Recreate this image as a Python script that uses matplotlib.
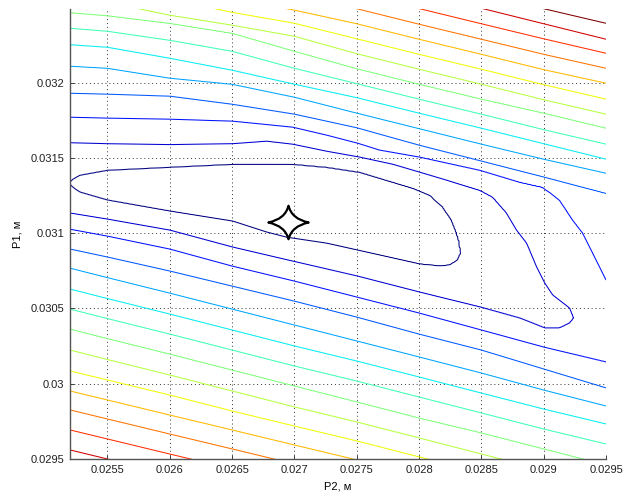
"""Contour map of the criterion over (P2, P1) with the optimum marked by a star."""
import numpy as np
import matplotlib
matplotlib.use('Agg')
import matplotlib.pyplot as plt
from matplotlib.path import Path
from matplotlib.colors import Normalize

plt.rcParams['font.family'] = ['Liberation Sans', 'DejaVu Sans']
plt.rcParams['font.size'] = 8

nan = np.nan

p2_cols = [0.0252, 0.0255, 0.0260, 0.0265, 0.0270, 0.0275, 0.0280, 0.0285, 0.0290, 0.0295]

# branches above the valley: P1 (m) of contour level k at each column (nan = far off the axes)
upper = {
    4:  [0.031930, 0.031924, 0.031911, 0.031857, 0.031791, 0.031701, 0.031585, 0.031479, 0.031373, 0.031266],
    5:  [0.032110, 0.032096, 0.032030, 0.031990, 0.031904, 0.031798, 0.031695, 0.031592, 0.031492, 0.031399],
    6:  [0.032253, 0.032236, 0.032163, 0.032083, 0.031990, 0.031901, 0.031798, 0.031698, 0.031595, 0.031492],
    7:  [0.032362, 0.032342, 0.032282, 0.032209, 0.032096, 0.031994, 0.031891, 0.031791, 0.031688, 0.031592],
    8:  [0.032465, 0.032445, 0.032395, 0.032329, 0.032209, 0.032093, 0.031990, 0.031891, 0.031798, 0.031698],
    9:  [0.032581, 0.032535, 0.032448, 0.032382, 0.032309, 0.032193, 0.032090, 0.031990, 0.031887, 0.031791],
    10: [nan, 0.032634, 0.032555, 0.032468, 0.032395, 0.032292, 0.032189, 0.032090, 0.031987, 0.031891],
    11: [nan, nan, 0.032641, 0.032561, 0.032482, 0.032392, 0.032289, 0.032189, 0.032087, 0.031997],
    12: [nan, nan, nan, 0.032694, 0.032594, 0.032492, 0.032389, 0.032289, 0.032189, 0.032096],
    13: [nan, nan, nan, nan, 0.032687, 0.032588, 0.032493, 0.032392, 0.032292, 0.032196],
    14: [nan, nan, nan, nan, nan, 0.032694, 0.032594, 0.032495, 0.032392, 0.032289],
    15: [nan, nan, nan, nan, nan, nan, 0.032694, 0.032588, 0.032492, 0.032395],
    16: [nan, nan, nan, nan, nan, nan, nan, 0.032694, 0.032594, 0.032502],
}

# branches below the valley
lower = {
    3:  [0.031027, 0.030981, 0.030895, 0.030782, 0.030682, 0.030576, 0.030470, 0.030357, 0.030244, 0.030144],
    4:  [0.030895, 0.030842, 0.030749, 0.030649, 0.030549, 0.030443, 0.030330, 0.030224, 0.030098, 0.029972],
    5:  [0.030768, 0.030705, 0.030602, 0.030496, 0.030390, 0.030284, 0.030178, 0.030071, 0.029958, 0.029852],
    6:  [0.030629, 0.030566, 0.030463, 0.030357, 0.030251, 0.030151, 0.030045, 0.029938, 0.029832, 0.029733],
    7:  [0.030496, 0.030433, 0.030330, 0.030224, 0.030118, 0.030018, 0.029912, 0.029806, 0.029699, 0.029600],
    8:  [0.030363, 0.030300, 0.030197, 0.030091, 0.029985, 0.029879, 0.029772, 0.029673, 0.029567, 0.029460],
    9:  [0.030224, 0.030161, 0.030058, 0.029952, 0.029846, 0.029746, 0.029640, 0.029533, 0.029427, nan],
    10: [0.030085, 0.030025, 0.029925, 0.029819, 0.029719, 0.029620, 0.029514, 0.029414, nan, nan],
    11: [0.029952, 0.029892, 0.029792, 0.029693, 0.029593, 0.029494, 0.029394, nan, nan, nan],
    12: [0.029826, 0.029766, 0.029666, 0.029567, 0.029467, 0.029367, nan, nan, nan, nan],
    13: [0.029693, 0.029633, 0.029533, 0.029434, nan, nan, nan, nan, nan, nan],
    14: [0.029560, 0.029500, 0.029401, nan, nan, nan, nan, nan, nan, nan],
}

# level 1: closed loop around the optimum (upper and lower halves)
lvl1_up_p2 = [0.0252, 0.025222, 0.025278, 0.0255, 0.0260, 0.026505, 0.026986, 0.027259, 0.027524,
              0.027684, 0.027949, 0.028086, 0.028190, 0.028262, 0.028302, 0.028326, 0.028334]
lvl1_up_p1 = [0.031340, 0.031359, 0.031386, 0.031419, 0.031439, 0.031459, 0.031459, 0.031439, 0.031406,
              0.031366, 0.031300, 0.031253, 0.031174, 0.031087, 0.031001, 0.030934, 0.030868]
lvl1_lo_p2 = [0.0252, 0.025222, 0.025278, 0.0255, 0.0260, 0.026505, 0.026778, 0.026938, 0.027259,
              0.027684, 0.028005, 0.028166, 0.028246, 0.028310, 0.028334]
lvl1_lo_p1 = [0.031326, 0.031306, 0.031273, 0.031220, 0.031147, 0.031081, 0.031008, 0.030974, 0.030934,
              0.030855, 0.030795, 0.030782, 0.030788, 0.030822, 0.030868]

# level 2: long loop that turns back near P2 = 0.0292
lvl2_up_p2 = [0.0252, 0.0255, 0.0260, 0.026505, 0.026778, 0.026986, 0.027259, 0.027524, 0.027789,
              0.028005, 0.028222, 0.028487, 0.028591, 0.028703, 0.028783, 0.028864, 0.028944,
              0.029008, 0.029072, 0.029209, 0.029241]
lvl2_up_p1 = [0.031602, 0.031595, 0.031589, 0.031595, 0.031612, 0.031592, 0.031545, 0.031506, 0.031459,
              0.031406, 0.031353, 0.031286, 0.031240, 0.031134, 0.031021, 0.030934, 0.030775,
              0.030669, 0.030589, 0.030503, 0.030436]
lvl2_lo_p2 = [0.0252, 0.0255, 0.0260, 0.026505, 0.026986, 0.027508, 0.028005, 0.028487, 0.028807,
              0.029008, 0.029128, 0.029209, 0.029241]
lvl2_lo_p1 = [0.031134, 0.031094, 0.031021, 0.030908, 0.030815, 0.030715, 0.030609, 0.030510, 0.030436,
              0.030370, 0.030370, 0.030403, 0.030436]

# level 3 upper branch bends down to the right edge
lvl3_up_p2 = [0.0252, 0.0255, 0.0260, 0.026505, 0.026986, 0.027259, 0.027508, 0.027684, 0.028005,
              0.028487, 0.028807, 0.028992, 0.029128, 0.029233, 0.029313, 0.029393, 0.0295]
lvl3_up_p1 = [0.031771, 0.031765, 0.031758, 0.031745, 0.031705, 0.031652, 0.031598, 0.031552, 0.031506,
              0.031419, 0.031340, 0.031306, 0.031220, 0.031087, 0.031001, 0.030868, 0.030689]

# valley floor: position and depth (in level units)
valley_p2 = [0.0252, 0.0255, 0.0260, 0.026505, 0.026938, 0.027524, 0.028005, 0.028334, 0.028647,
             0.029008, 0.029241, 0.0295]
valley_p1 = [0.031333, 0.031313, 0.031273, 0.031187, 0.031074, 0.031054, 0.030988, 0.030868, 0.030768,
             0.030556, 0.030436, 0.030410]
valley_z = [0.95, 0.75, 0.55, 0.4, 0.3, 0.45, 0.7, 1.0, 1.4, 1.75, 2.0, 2.5]

# optimum
opt_p2 = 0.026946
opt_p1 = 0.031077

xticks = [0.0255, 0.026, 0.0265, 0.027, 0.0275, 0.028, 0.0285, 0.029, 0.0295]
xtick_labels = ['0.0255', '0.026', '0.0265', '0.027', '0.0275', '0.028', '0.0285', '0.029', '0.0295']
yticks = [0.0295, 0.030, 0.0305, 0.031, 0.0315, 0.032]
ytick_labels = ['0.0295', '0.03', '0.0305', '0.031', '0.0315', '0.032']


def branches():
    out = [(k, p2_cols, ys) for k, ys in upper.items()]
    out += [(k, p2_cols, ys) for k, ys in lower.items()]
    out += [(1, lvl1_up_p2, lvl1_up_p1), (1, lvl1_lo_p2, lvl1_lo_p1),
            (2, lvl2_up_p2, lvl2_up_p1), (2, lvl2_lo_p2, lvl2_lo_p1),
            (3, lvl3_up_p2, lvl3_up_p1)]
    res = []
    for k, xs, ys in out:
        xs, ys = np.asarray(xs, float), np.asarray(ys, float)
        ok = ~np.isnan(ys)
        res.append((k, xs[ok], ys[ok]))
    return res


def build_field(xg, yg):
    """Column by column: level crossings + valley floor -> V-shaped profile in P1."""
    br = branches()
    Z = np.empty((len(yg), len(xg)))
    for j, x in enumerate(xg):
        pts = [(np.interp(x, xs, ys), k) for k, xs, ys in br if xs[0] <= x <= xs[-1]]
        pts.append((np.interp(x, valley_p2, valley_p1), np.interp(x, valley_p2, valley_z)))
        pts.sort()
        py = np.array([p[0] for p in pts])
        pz = np.array([p[1] for p in pts])
        col = np.interp(yg, py, pz)
        lo, hi = yg < py[0], yg > py[-1]
        col[lo] = pz[0] + (yg[lo] - py[0]) * (pz[1] - pz[0]) / (py[1] - py[0])
        col[hi] = pz[-1] + (yg[hi] - py[-1]) * (pz[-1] - pz[-2]) / (py[-1] - py[-2])
        Z[:, j] = col
    return Z


def star_marker():
    """Four-pointed star with concave sides."""
    c = 0.2
    verts = [(0, 1), (c, c), (1.2, 0), (c, -c), (0, -1), (-c, -c), (-1.2, 0), (-c, c), (0, 1), (0, 1)]
    codes = [Path.MOVETO] + [Path.CURVE3] * 8 + [Path.CLOSEPOLY]
    return Path(verts, codes)


xg = np.linspace(0.0252, 0.0295, 431)
yg = np.linspace(0.0293, 0.0327, 500)
Z = build_field(xg, yg)

fig = plt.figure(figsize=(6.32, 4.92), dpi=100)
ax = fig.add_axes([0.1108, 0.0671, 0.8481, 0.9146])

ax.contour(xg, yg, Z, levels=np.arange(1, 16), cmap='jet', norm=Normalize(1, 15),
           linewidths=0.75)
ax.plot([opt_p2], [opt_p1], linestyle='none', marker=star_marker(), markersize=29,
        markerfacecolor='white', markeredgecolor='k', markeredgewidth=1.6, zorder=5)

ax.set_xlim(0.0252, 0.0295)
ax.set_ylim(0.0295, 0.03249)
ax.set_xticks(xticks)
ax.set_xticklabels(xtick_labels)
ax.set_yticks(yticks)
ax.set_yticklabels(ytick_labels)
ax.grid(True, linestyle=(0, (1, 3)), color='#333333', linewidth=0.7)
ax.set_axisbelow(True)
ax.tick_params(direction='in', length=3, width=0.6, labelsize=8, colors='#202020', pad=4)
for side in ('top', 'right'):
    ax.spines[side].set_visible(False)
for side in ('left', 'bottom'):
    ax.spines[side].set_color('#555555')
    ax.spines[side].set_linewidth(1.0)
ax.set_xlabel('P2, м', fontsize=8, labelpad=5)
ax.set_ylabel('P1, м', fontsize=8, labelpad=6)

fig.savefig('out.png', dpi=100)
